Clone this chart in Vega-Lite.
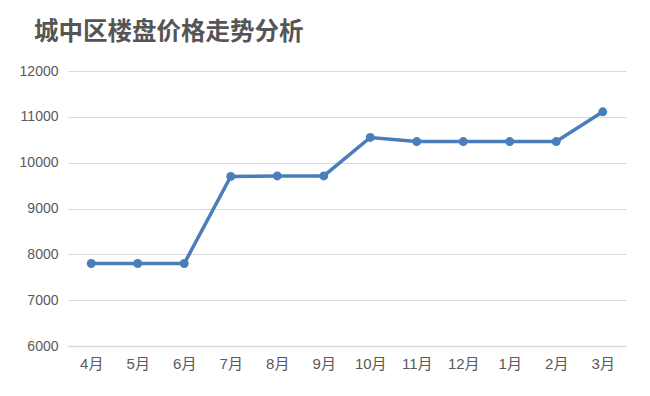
{
  "$schema": "https://vega.github.io/schema/vega-lite/v6.json",
  "width": 558,
  "height": 275,
  "autosize": {"type": "none"},
  "padding": {"left": 68, "top": 71, "right": 24, "bottom": 50},
  "background": "white",
  "title": {
    "text": "城中区楼盘价格走势分析",
    "anchor": "start",
    "frame": "group",
    "dx": -34,
    "offset": 19,
    "font": "Noto Sans CJK SC",
    "fontSize": 24.5,
    "fontWeight": "bold",
    "color": "#555555"
  },
  "data": {
    "values": [
      {"month": "4月", "price": 7800},
      {"month": "5月", "price": 7800},
      {"month": "6月", "price": 7800},
      {"month": "7月", "price": 9700},
      {"month": "8月", "price": 9710},
      {"month": "9月", "price": 9710},
      {"month": "10月", "price": 10550},
      {"month": "11月", "price": 10460},
      {"month": "12月", "price": 10460},
      {"month": "1月", "price": 10460},
      {"month": "2月", "price": 10460},
      {"month": "3月", "price": 11110}
    ]
  },
  "config": {
    "view": {"stroke": null},
    "axis": {
      "labelFont": "Liberation Sans, Noto Sans CJK SC",
      "labelFontSize": 13,
      "labelColor": "#595959",
      "gridColor": "#d9d9d9",
      "domainColor": "#d9d9d9",
      "ticks": false,
      "title": null
    }
  },
  "mark": {"type": "line", "color": "#4a7ebb", "strokeWidth": 3.5, "point": {"filled": true, "size": 80, "color": "#4a7ebb", "opacity": 1}},
  "encoding": {
    "x": {
      "field": "month",
      "type": "ordinal",
      "sort": null,
      "axis": {"labelAngle": 0, "grid": false, "labelPadding": 10, "labelFontSize": 15, "domainWidth": 1.5}
    },
    "y": {
      "field": "price",
      "type": "quantitative",
      "scale": {"domain": [6000, 12000], "nice": false},
      "axis": {"values": [6000, 7000, 8000, 9000, 10000, 11000, 12000], "domain": false, "labelPadding": 10, "labelFontSize": 14, "format": "d"}
    }
  }
}
